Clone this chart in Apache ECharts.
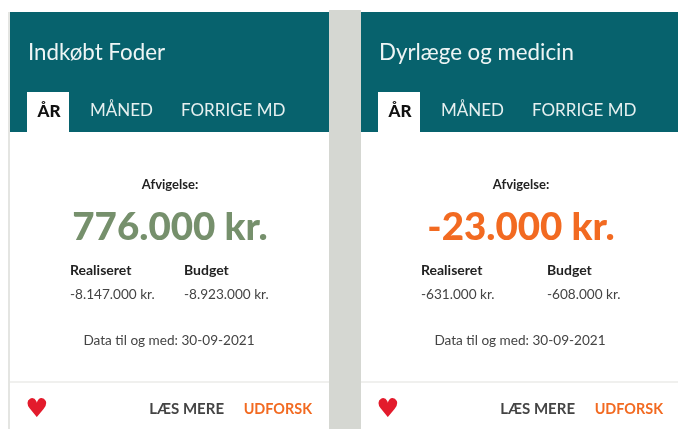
<!DOCTYPE html>
<html>
<head>
<meta charset="utf-8">
<script src="https://cdn.jsdelivr.net/npm/echarts@6/dist/echarts.min.js"></script>
<style>
  html, body { margin: 0; padding: 0; background: #fff; }
  #chart { width: 678px; height: 429px; }
</style>
</head>
<body>
<div id="chart"></div>
<script>
// card contents
const titles = ['Indkøbt Foder', 'Dyrlæge og medicin'];
const tabLabels = ['ÅR', 'MÅNED', 'FORRIGE MD'];
const deviations = ['776.000 kr.', '-23.000 kr.'];
const realised = ['-8.147.000 kr.', '-631.000 kr.'];
const budget = ['-8.923.000 kr.', '-608.000 kr.'];
const dataDates = ['Data til og med: 30-09-2021', 'Data til og med: 30-09-2021'];

const TEAL = '#07626d';
const FONT = 'Lato, "Open Sans", sans-serif';

function label(x, y, text, size, weight, color, align, family) {
  return {
    type: 'text', x: x, y: y,
    style: {
      text: text, fontFamily: family || FONT, fontSize: size, fontWeight: weight,
      fill: color, align: align || 'left', verticalAlign: 'middle'
    }
  };
}

function rect(x, y, width, height, fill) {
  return { type: 'rect', shape: { x: x, y: y, width: width, height: height }, style: { fill: fill } };
}

function card(i, left, right, budgetX, valueColor) {
  const dx = left - 10;
  const mid = left + 160;
  return [
    rect(left, 12, right - left, 417, '#fff'),
    rect(left, 12, right - left, 120, TEAL),
    rect(left + 17, 92, 42, 40, '#fff'),
    rect(left, 381, right - left, 2, '#f0f0ee'),
    label(28 + dx, 53, titles[i], 22.3, 400, '#eef5f5'),
    label(49 + dx, 112, tabLabels[0], 17, 900, '#111', 'center'),
    label(90 + dx, 111, tabLabels[1], 17, 400, '#e6f0f0'),
    label(181 + dx, 111, tabLabels[2], 17, 400, '#e6f0f0'),
    label(mid, 185, 'Afvigelse:', 13, 700, '#222', 'center'),
    label(mid, 228, deviations[i], 38.5, 900, valueColor, 'center'),
    label(70 + dx, 270, 'Realiseret', 14, 700, '#222'),
    label(budgetX, 270, 'Budget', 14, 700, '#222'),
    label(70 + dx, 295, realised[i], 13.6, 400, '#444'),
    label(budgetX, 295, budget[i], 13.6, 400, '#444'),
    label(mid - 1, 341, dataDates[i], 13.6, 400, '#444', 'center'),
    label(37 + dx, 410, '♥', 26, 400, '#e31b2c', 'center', '"DejaVu Sans"'),
    label(224 + dx, 409, 'LÆS MERE', 15, 700, '#444', 'right'),
    label(312 + dx, 409, 'UDFORSK', 14.4, 700, '#f26a21', 'right')
  ];
}

const chart = echarts.init(document.getElementById('chart'));
chart.setOption({
  animation: false,
  backgroundColor: '#fff',
  graphic: {
    elements: [
      rect(329, 10, 32, 419, '#d5d7d2'),
      rect(8, 12, 2, 417, '#e4e5e2'),
      ...card(0, 10, 329, 184, '#76906c'),
      ...card(1, 361, 678, 547, '#f26a21')
    ]
  }
});
</script>
</body>
</html>
